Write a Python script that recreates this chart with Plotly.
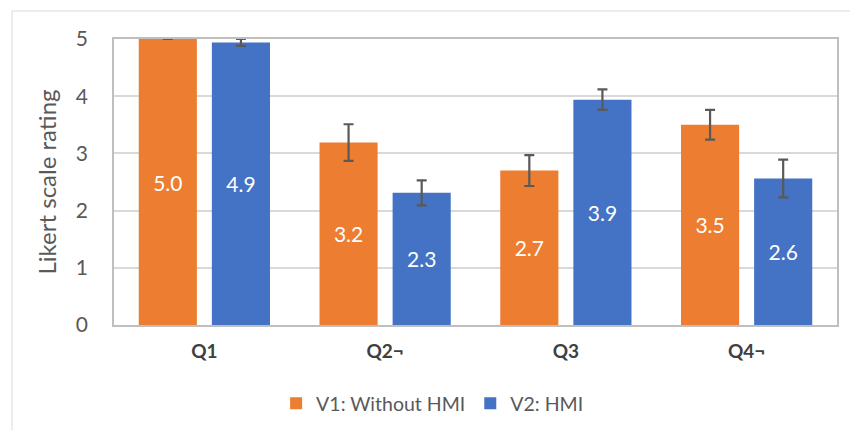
import plotly.graph_objects as go

categories = ["Q1", "Q2¬", "Q3", "Q4¬"]
v1_values = [5.0, 3.19, 2.70, 3.50]
v1_errors = [0.0, 0.32, 0.27, 0.26]
v2_values = [4.94, 2.31, 3.94, 2.56]
v2_errors = [0.06, 0.22, 0.18, 0.33]
series_names = ["V1: Without HMI", "V2: HMI"]
y_ticks = [0, 1, 2, 3, 4, 5]

FONT = "Lato, Calibri, 'Open Sans', sans-serif"
ORANGE = "#ED7D31"
BLUE = "#4472C4"
ERR = "#595959"

fig = go.Figure()
for name, vals, errs, col in [
    (series_names[0], v1_values, v1_errors, ORANGE),
    (series_names[1], v2_values, v2_errors, BLUE),
]:
    fig.add_trace(go.Bar(
        x=categories, y=vals, name=name,
        marker=dict(color=col, line=dict(width=0)),
        error_y=dict(type="data", array=errs, visible=True,
                     color=ERR, thickness=2.2, width=5),
        texttemplate="%{y:.1f}", textposition="inside",
        insidetextanchor="middle",
        textfont=dict(family=FONT, size=21, color="white"),
        cliponaxis=False,
    ))

fig.update_layout(
    width=850, height=430,
    margin=dict(l=114, r=13, t=39, b=105, autoexpand=False),
    paper_bgcolor="white", plot_bgcolor="white",
    barmode="group", bargap=0.191, bargroupgap=0.205,
    font=dict(family=FONT, color="#595959"),
    showlegend=True,
    legend=dict(orientation="h", x=0.44, xanchor="center", y=-0.275,
                yanchor="middle", font=dict(family=FONT, size=19.5, color="#595959"),
                itemwidth=30, traceorder="normal"),
)
fig.update_xaxes(
    tickfont=dict(family=FONT, size=19, color="#404040", weight="bold"),
    showline=True, linecolor="#BFBFBF", linewidth=1.5, mirror=True,
    ticks="", ticklabelstandoff=8, automargin=False,
)
fig.update_yaxes(
    range=[0, 5], tickvals=y_ticks,
    tickfont=dict(family=FONT, size=21, color="#595959"),
    showgrid=True, gridcolor="#D9D9D9", gridwidth=1.5,
    showline=True, linecolor="#BFBFBF", linewidth=1.5, mirror=True,
    zeroline=False, ticks="", ticklabelstandoff=20, automargin=False,
    title=dict(text="Likert scale rating", font=dict(family=FONT, size=24, color="#595959"),
               standoff=12),
)
fig.add_shape(type="rect", xref="paper", yref="paper",
              x0=(12 - 114) / 723, x1=(860 - 114) / 723,
              y0=(325 - 440) / 286, y1=(325 - 11) / 286,
              line=dict(color="#D9D9D9", width=1), fillcolor="rgba(0,0,0,0)", layer="below")

fig.write_html("out.html", config={"displayModeBar": False})

# remove the default page margin so the figure sits at the window origin
with open("out.html", encoding="utf-8") as f:
    html = f.read()
html = html.replace("<body>", '<body style="margin:0;overflow:hidden">', 1)
with open("out.html", "w", encoding="utf-8") as f:
    f.write(html)
